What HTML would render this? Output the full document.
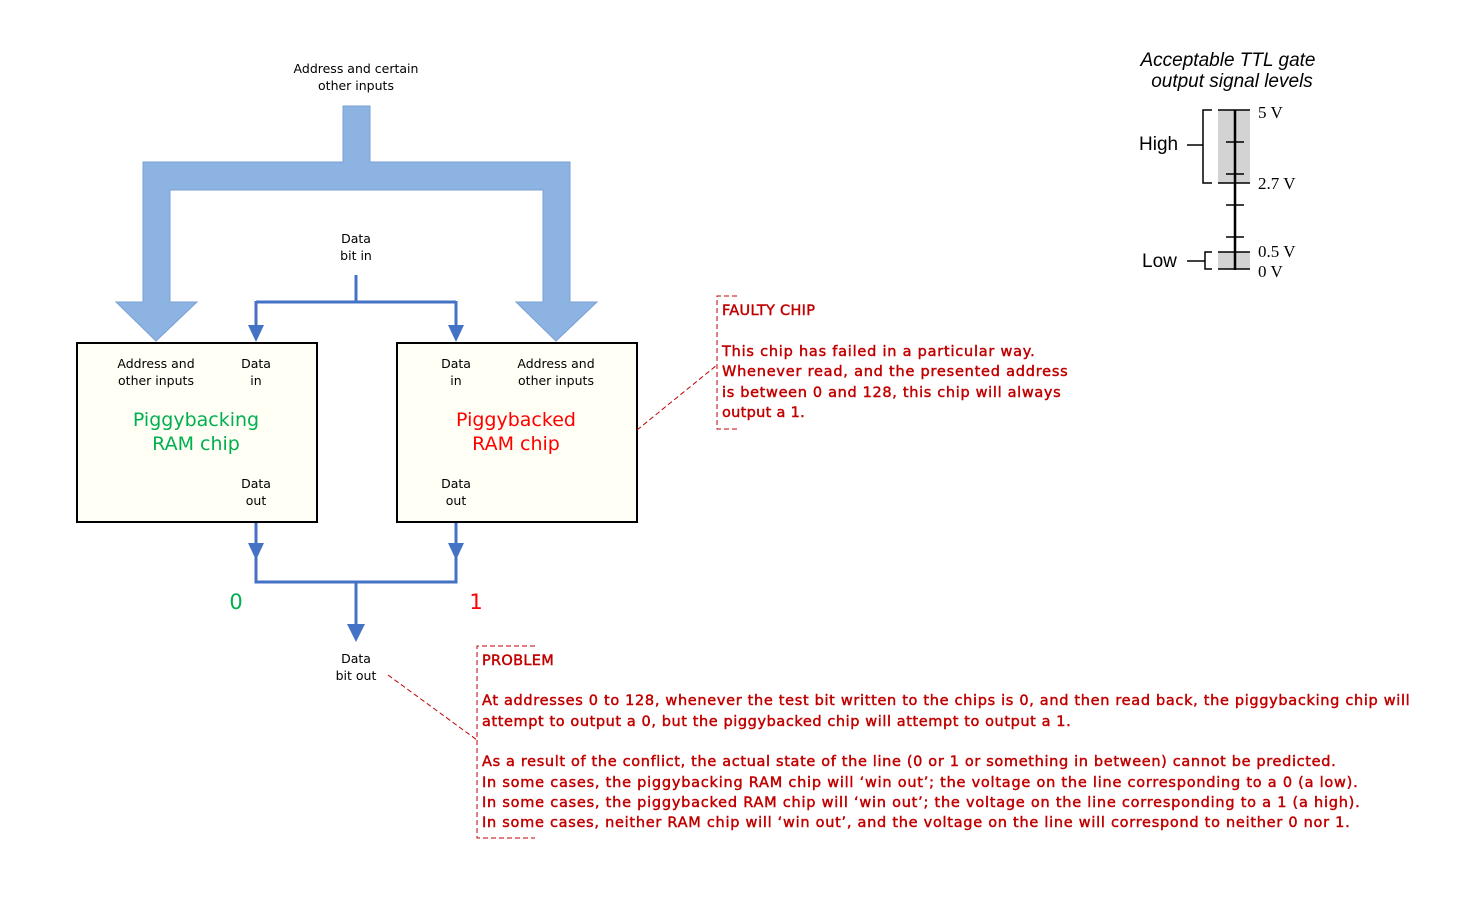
<!DOCTYPE html>
<html><head><meta charset="utf-8"><style>
html,body{margin:0;padding:0;background:#fff;width:1473px;height:898px;overflow:hidden}
svg{display:block}
.s{font-family:"DejaVu Sans","Liberation Sans",sans-serif;font-size:12.5px;fill:#000}
.r{font-family:"DejaVu Sans","Liberation Sans",sans-serif;font-size:14.5px;fill:#c00000;stroke:#c00000;stroke-width:0.45px;letter-spacing:0.3px}
.a{font-family:"Liberation Sans",sans-serif;fill:#000}
.t{font-family:"Liberation Serif",serif;font-size:17px;fill:#000}
</style></head><body>
<svg width="1473" height="898" viewBox="0 0 1473 898" xmlns="http://www.w3.org/2000/svg">
<path d="M343,106 H370 V162 H570 V302 H597 L556,341 L516,302 H543 V190 H170 V302 H197 L156,341 L116,302 H143 V162 H343 Z" fill="#8db3e2" stroke="#7aa0d4" stroke-width="1"/>
<text class="s" x="356" y="73" text-anchor="middle">Address and certain</text>
<text class="s" x="356" y="90" text-anchor="middle">other inputs</text>
<text class="s" x="356" y="243" text-anchor="middle">Data</text>
<text class="s" x="356" y="260" text-anchor="middle">bit in</text>
<g stroke="#4472c4" stroke-width="3" fill="none">
<path d="M356,275 V302 M256,302 H456 M256,301 V330 M456,301 V330"/>
<path d="M256,522 V548 M456,522 V548 M256,548 V582 H456 V548 M356,582 V628"/>
</g>
<g fill="#4472c4">
<path d="M248,325 L264,325 L256,342 Z"/>
<path d="M448,325 L464,325 L456,342 Z"/>
<path d="M248,543 L264,543 L256,560 Z"/>
<path d="M448,543 L464,543 L456,560 Z"/>
<path d="M347,624 L365,624 L356,642 Z"/>
</g>
<rect x="77" y="343" width="240" height="179" fill="#fffff5" stroke="#000" stroke-width="2"/>
<rect x="397" y="343" width="240" height="179" fill="#fffff5" stroke="#000" stroke-width="2"/>
<text class="s" x="156" y="368" text-anchor="middle">Address and</text>
<text class="s" x="156" y="385" text-anchor="middle">other inputs</text>
<text class="s" x="256" y="368" text-anchor="middle">Data</text>
<text class="s" x="256" y="385" text-anchor="middle">in</text>
<text class="s" x="256" y="488" text-anchor="middle">Data</text>
<text class="s" x="256" y="505" text-anchor="middle">out</text>
<text x="196" y="426" text-anchor="middle" font-family="DejaVu Sans,Liberation Sans,sans-serif" font-size="19" fill="#00b050">Piggybacking</text>
<text x="196" y="450" text-anchor="middle" font-family="DejaVu Sans,Liberation Sans,sans-serif" font-size="19" fill="#00b050">RAM chip</text>
<text class="s" x="456" y="368" text-anchor="middle">Data</text>
<text class="s" x="456" y="385" text-anchor="middle">in</text>
<text class="s" x="556" y="368" text-anchor="middle">Address and</text>
<text class="s" x="556" y="385" text-anchor="middle">other inputs</text>
<text class="s" x="456" y="488" text-anchor="middle">Data</text>
<text class="s" x="456" y="505" text-anchor="middle">out</text>
<text x="516" y="426" text-anchor="middle" font-family="DejaVu Sans,Liberation Sans,sans-serif" font-size="19" fill="#ff0000">Piggybacked</text>
<text x="516" y="450" text-anchor="middle" font-family="DejaVu Sans,Liberation Sans,sans-serif" font-size="19" fill="#ff0000">RAM chip</text>
<text x="236" y="609" text-anchor="middle" font-family="DejaVu Sans,Liberation Sans,sans-serif" font-size="21" fill="#00b050">0</text>
<text x="476" y="609" text-anchor="middle" font-family="DejaVu Sans,Liberation Sans,sans-serif" font-size="21" fill="#ff0000">1</text>
<text class="s" x="356" y="663" text-anchor="middle">Data</text>
<text class="s" x="356" y="680" text-anchor="middle">bit out</text>
<g stroke="#c00000" stroke-width="1" stroke-dasharray="5,3" fill="none">
<path d="M737,296 H717 V429 H737"/>
<path d="M637,430 L717,365"/>
<path d="M535,646 H477 V838 H535"/>
<path d="M388,675 L477,740"/>
</g>
<text class="r" x="722" y="315">FAULTY CHIP</text>
<text class="r" x="722" y="356" textLength="313">This chip has failed in a particular way.</text>
<text class="r" x="722" y="376" textLength="346">Whenever read, and the presented address</text>
<text class="r" x="722" y="397" textLength="339">is between 0 and 128, this chip will always</text>
<text class="r" x="722" y="417">output a 1.</text>
<text class="r" x="482" y="665">PROBLEM</text>
<text class="r" x="482" y="705" textLength="928">At addresses 0 to 128, whenever the test bit written to the chips is 0, and then read back, the piggybacking chip will</text>
<text class="r" x="482" y="726" textLength="589">attempt to output a 0, but the piggybacked chip will attempt to output a 1.</text>
<text class="r" x="482" y="766" textLength="854">As a result of the conflict, the actual state of the line (0 or 1 or something in between) cannot be predicted.</text>
<text class="r" x="482" y="787" textLength="876">In some cases, the piggybacking RAM chip will ‘win out’; the voltage on the line corresponding to a 0 (a low).</text>
<text class="r" x="482" y="807" textLength="878">In some cases, the piggybacked RAM chip will ‘win out’; the voltage on the line corresponding to a 1 (a high).</text>
<text class="r" x="482" y="827" textLength="868">In some cases, neither RAM chip will ‘win out’, and the voltage on the line will correspond to neither 0 nor 1.</text>
<text class="a" x="1228" y="66" text-anchor="middle" font-size="19" font-style="italic">Acceptable TTL gate</text>
<text class="a" x="1232" y="87" text-anchor="middle" font-size="19" font-style="italic">output signal levels</text>
<rect x="1218" y="110" width="32" height="73" fill="#d3d3d3"/>
<rect x="1218" y="252" width="32" height="17" fill="#d3d3d3"/>
<g stroke="#000" stroke-width="1.5" fill="none">
<path d="M1235,110 V270" stroke-width="2.5"/>
<path d="M1218,110 H1250 M1226,142 H1244 M1226,174 H1244 M1218,183 H1250 M1226,205 H1244 M1226,237 H1244 M1218,252 H1250 M1218,269 H1250"/>
<path d="M1212,110 H1203 V183 H1212 M1187,145 H1203"/>
<path d="M1212,252 H1205 V269 H1212 M1187,261 H1205"/>
</g>
<text class="t" x="1258" y="118">5 V</text>
<text class="t" x="1258" y="189">2.7 V</text>
<text class="t" x="1258" y="257">0.5 V</text>
<text class="t" x="1258" y="277">0 V</text>
<text class="a" x="1139" y="150" font-size="19">High</text>
<text class="a" x="1142" y="267" font-size="19">Low</text>
</svg>
</body></html>
